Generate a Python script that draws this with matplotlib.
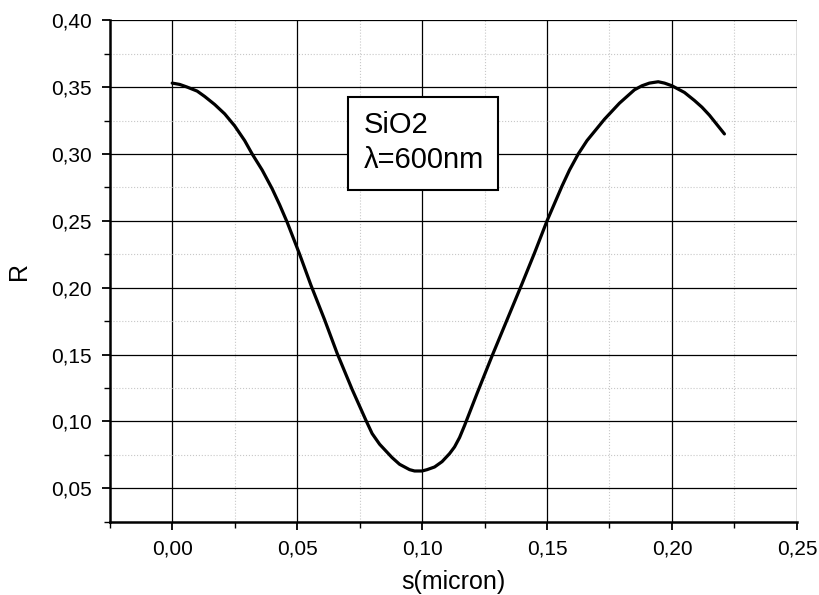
import matplotlib
matplotlib.use("Agg")
import matplotlib.pyplot as plt
from matplotlib.patches import Rectangle
from matplotlib.ticker import MultipleLocator, FuncFormatter

plt.rcParams['font.family'] = ['Liberation Sans', 'DejaVu Sans']

# values
s_micron = [0.000, 0.003, 0.006, 0.010, 0.013, 0.017, 0.021, 0.025, 0.029, 0.032,
            0.036, 0.040, 0.043, 0.046, 0.051, 0.0555, 0.061, 0.066, 0.072, 0.0775,
            0.080, 0.083, 0.086, 0.088, 0.091, 0.093, 0.095, 0.097, 0.100, 0.102,
            0.105, 0.108, 0.111, 0.113, 0.115, 0.117, 0.122, 0.128, 0.134, 0.140,
            0.145, 0.150, 0.156, 0.159, 0.1625, 0.166, 0.1695, 0.173, 0.176, 0.179,
            0.182, 0.185, 0.188, 0.191, 0.1945, 0.197, 0.200, 0.203, 0.205, 0.209,
            0.212, 0.215, 0.218, 0.221]
R_vals = [0.353, 0.352, 0.350, 0.347, 0.343, 0.337, 0.330, 0.321, 0.310, 0.300,
          0.288, 0.274, 0.262, 0.249, 0.225, 0.202, 0.176, 0.151, 0.124, 0.101,
          0.091, 0.083, 0.077, 0.073, 0.068, 0.066, 0.064, 0.063, 0.063, 0.064,
          0.066, 0.070, 0.076, 0.081, 0.088, 0.097, 0.121, 0.149, 0.176, 0.203,
          0.226, 0.250, 0.276, 0.288, 0.300, 0.310, 0.318, 0.326, 0.332, 0.338,
          0.343, 0.348, 0.351, 0.353, 0.354, 0.353, 0.351, 0.348, 0.346, 0.340,
          0.335, 0.329, 0.322, 0.315]

x_ticks = [0.00, 0.05, 0.10, 0.15, 0.20, 0.25]
y_ticks = [0.05, 0.10, 0.15, 0.20, 0.25, 0.30, 0.35, 0.40]
box_lines = ["SiO2", "\u03bb=600nm"]

fig = plt.figure(figsize=(8.19, 5.95), dpi=100)
ax = fig.add_axes([0.134, 0.123, 0.839, 0.843])

ax.plot(s_micron, R_vals, color='black', lw=2.3, zorder=3,
        solid_joinstyle='round', solid_capstyle='round')

ax.set_xlim(-0.025, 0.25)
ax.set_ylim(0.025, 0.40)
ax.set_xticks(x_ticks)
ax.set_yticks(y_ticks)
ax.xaxis.set_minor_locator(MultipleLocator(0.025))
ax.yaxis.set_minor_locator(MultipleLocator(0.025))
comma = FuncFormatter(lambda v, p: f"{v:.2f}".replace('.', ','))
ax.xaxis.set_major_formatter(comma)
ax.yaxis.set_major_formatter(comma)

ax.grid(which='major', color='black', lw=0.9)
ax.grid(which='minor', color='#c8c8c8', lw=0.8, ls=':')
ax.set_axisbelow(True)

for side in ['top', 'right']:
    ax.spines[side].set_visible(False)
for side in ['left', 'bottom']:
    ax.spines[side].set_linewidth(1.8)

ax.tick_params(which='major', direction='out', length=6, width=1.3, labelsize=15, pad=7)
ax.tick_params(which='minor', direction='out', length=4, width=1.0)

ax.set_xlabel('s(micron)', fontsize=18, labelpad=8)
ax.set_ylabel('R', fontsize=18, labelpad=14)

# annotation box
ax.add_patch(Rectangle((0.0703, 0.273), 0.060, 0.0695, fc='white', ec='black',
                       lw=1.5, zorder=4))
ax.text(0.0768, 0.322, box_lines[0], fontsize=21, va='center', ha='left', zorder=5)
ax.text(0.0768, 0.2955, box_lines[1], fontsize=21, va='center', ha='left', zorder=5)

fig.savefig('out.png', dpi=100)
